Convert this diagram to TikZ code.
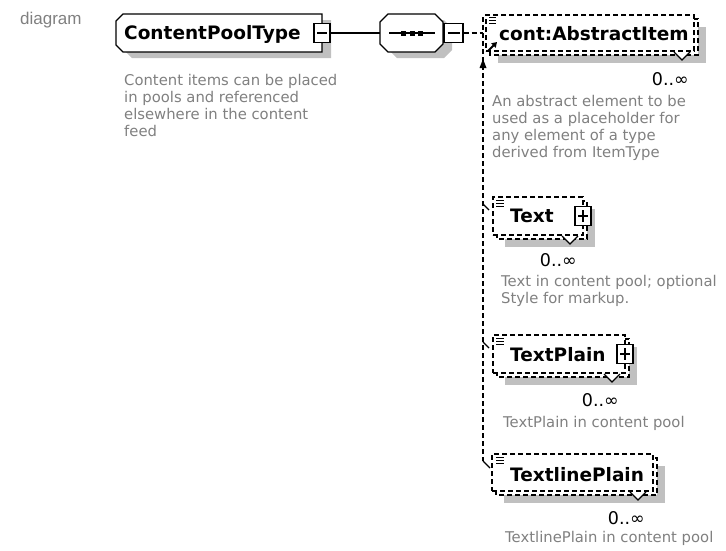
\documentclass[tikz,border=0pt]{standalone}
\usepackage{fontspec}
\newfontfamily\dv{DejaVu Sans}
\newfontfamily\lib{Liberation Sans}
\usetikzlibrary{calc,arrows.meta}
\definecolor{descgray}{HTML}{808080}
\definecolor{shgray}{HTML}{C0C0C0}
\begin{document}
\begin{tikzpicture}[x=1pt,y=-1pt,
  sh/.style={fill=shgray,draw=none},
  solid1/.style={draw,line width=1.1pt},
  dbox/.style={draw,fill=white,line width=1.1pt,dash pattern=on 5pt off 3pt},
  fbox/.style={dbox,inner sep=0pt},
  dline/.style={draw,line width=1.1pt,dash pattern=on 5pt off 3pt},
  pmbox/.style={draw,fill=white,line width=1.1pt,minimum width=16pt,minimum height=19pt,inner sep=0pt},
  title/.style={font=\dv\bfseries\fontsize{18.5}{22}\selectfont,anchor=base west,inner sep=0pt},
  desc/.style={font=\dv\fontsize{14.8}{17}\selectfont,text=descgray,anchor=north west,align=left,inner sep=0pt},
  mult/.style={font=\dv\fontsize{17.5}{20}\selectfont,anchor=east,inner sep=0pt},
  vnotch/.style={draw,fill=white,line width=1.1pt},
  icon/.style={draw,line width=1pt}]
\useasboundingbox (0,0) rectangle (726,550);

% label
\node[font=\lib\fontsize{17}{20}\selectfont,text=descgray,anchor=base west,inner sep=0pt] (dlab) at (20,24) {diagram};

% ---------- ContentPoolType ----------
\fill[shgray] (132,20) -- (331,20) -- (331,58) -- (132,58) -- (125,51) -- (125,27) -- cycle;
\node[minimum width=206pt,minimum height=38pt,inner sep=0pt] (cpt) at (219,33) {};
\draw[fill=white,line width=1.3pt] (123,14) -- (322,14) -- (322,52) -- (123,52) -- (116,45) -- (116,21) -- cycle;
\node[title] (cptT) at (124,39.5) {ContentPoolType};
\node[pmbox] (cptm) at (322,33) {};
\draw[solid1] ($(cptm.center)+(-5,0)$) -- ($(cptm.center)+(5,0)$);
\node[desc] (cptD) at (124,74) {Content items can be placed\\in pools and referenced\\elsewhere in the content\\feed};

% ---------- sequence ----------
\fill[shgray] (397,20) -- (444,20) -- (452,28) -- (452,50) -- (444,58) -- (397,58) -- (389,50) -- (389,28) -- cycle;
\node[minimum width=63pt,minimum height=38pt,inner sep=0pt] (seq) at (411.5,33) {};
\draw[fill=white,line width=1.1pt] (388,14) -- (435,14) -- (443,22) -- (443,44) -- (435,52) -- (388,52) -- (380,44) -- (380,22) -- cycle;
\draw[solid1] (389,33) -- (435,33);
\fill (401,30.5) rectangle +(5,5);
\fill (409.5,30.5) rectangle +(5,5);
\fill (418,30.5) rectangle +(5,5);
\node[pmbox,minimum width=19pt] (seqm) at (453.5,33) {};
\draw[solid1] ($(seqm.center)+(-6,0)$) -- ($(seqm.center)+(6,0)$);
\draw[solid1] (cptm.east) -- (seq.west);

% ---------- connectors ----------
\coordinate (jn) at (483,33);
\coordinate (vtop) at (483,17);
\coordinate (vbot) at (483,461);
\draw[dline] (seqm.east) -- (jn);
\draw[dline] (vtop) -- (vbot);
\fill (479.5,68) -- (483,59) -- (486.5,68) -- cycle;
\draw[solid1] (483,204) -- (489,210);
\draw[solid1] (483,342) -- (489,348);
\draw[solid1] (483,461) -- (490,468);

% ---------- cont:AbstractItem ----------
\fill[shgray] (498,27) rectangle (706,63);
\draw[dbox] (490,19) rectangle (698,55);
\node[fbox,minimum width=208pt,minimum height=36pt] (abs) at (590,33) {};
\draw[vnotch] (674,52) -- (682,60) -- (690,52);
\draw[icon] (489,17) -- (496,17) (489,20) -- (496,20) (489,23) -- (496,23);
\draw[line width=1.8pt,-{Triangle[length=5pt,width=6pt]}] (488,51) -- (497,42);
\node[title] (absT) at (499,40) {cont:AbstractItem};
\node[mult] (absM) at (689,79) {0..∞};
\node[desc] (absD) at (492,95) {An abstract element to be\\used as a placeholder for\\any element of a type\\derived from ItemType};

% ---------- Text ----------
\fill[shgray] (505,209) rectangle (595,247);
\draw[dbox] (497,201) rectangle (587,239);
\node[fbox,minimum width=90pt,minimum height=38pt] (txt) at (538,216) {};
\draw[vnotch] (562,236) -- (570,244) -- (578,236);
\node[pmbox] (txtp) at (583,216) {};
\draw[solid1] ($(txtp.center)+(-5,0)$) -- ($(txtp.center)+(5,0)$);
\draw[solid1] ($(txtp.center)+(0,-6)$) -- ($(txtp.center)+(0,6)$);
\draw[icon] (496,200) -- (504,200) (496,203) -- (504,203) (496,206) -- (504,206);
\node[title] (txtT) at (510,222) {Text};
\node[mult] (txtM) at (577,260) {0..∞};
\node[desc] (txtD) at (501,275) {Text in content pool; optional\\Style for markup.};

% ---------- TextPlain ----------
\fill[shgray] (505,347) rectangle (637,385);
\draw[dbox] (497,339) rectangle (629,377);
\node[fbox,minimum width=132pt,minimum height=38pt] (tpl) at (559,354) {};
\draw[vnotch] (604,374) -- (612,382) -- (620,374);
\node[pmbox] (tplp) at (625,354) {};
\draw[solid1] ($(tplp.center)+(-5,0)$) -- ($(tplp.center)+(5,0)$);
\draw[solid1] ($(tplp.center)+(0,-6)$) -- ($(tplp.center)+(0,6)$);
\draw[icon] (496,338) -- (504,338) (496,341) -- (504,341) (496,344) -- (504,344);
\node[title] (tplT) at (510,361) {TextPlain};
\node[mult] (tplM) at (619,400) {0..∞};
\node[desc] (tplD) at (503,416) {TextPlain in content pool};

% ---------- TextlinePlain ----------
\fill[shgray] (504,466) rectangle (665,503);
\draw[dbox] (496,458) rectangle (657,495);
\node[fbox,minimum width=161pt,minimum height=37pt] (tlp) at (572.5,472.5) {};
\draw[vnotch] (630,492) -- (638,500) -- (646,492);
\draw[icon] (496,457) -- (504,457) (496,460) -- (504,460) (496,463) -- (504,463);
\node[title] (tlpT) at (510,481) {TextlinePlain};
\node[mult] (tlpM) at (645,518) {0..∞};
\node[desc] (tlpD) at (505,531) {TextlinePlain in content pool};
\end{tikzpicture}
\end{document}
